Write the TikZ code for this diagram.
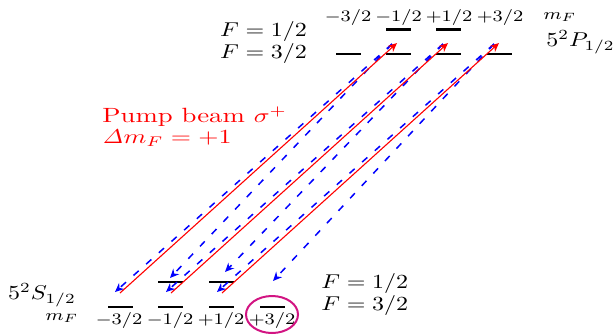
\documentclass[tikz,border=0pt]{standalone}
\usepackage{graphicx}
\usetikzlibrary{arrows.meta,shapes.geometric}
\definecolor{circmag}{RGB}{210,20,130}
\newcommand{\hs}[1]{\scalebox{1.2}[1]{#1}}
\newcommand{\hsw}[1]{\scalebox{1.3}[1]{#1}}
\begin{document}
\begin{tikzpicture}[x=0.5pt,y=-0.5pt,
  levelbar/.style={fill=black, inner sep=0pt, minimum width=12.5pt, minimum height=1.2pt},
  pump/.style={red, line width=0.55pt, -{Stealth[length=4.5pt,width=4pt]}},
  decay/.style={blue, line width=0.75pt, dash pattern=on 3.5pt off 5pt, -{Stealth[length=4.5pt,width=4pt]}},
  lbl/.style={inner sep=0pt, font=\fontsize{10.3}{12}\selectfont},
  mlbl/.style={inner sep=0pt, font=\fontsize{7.9}{9}\selectfont}
]
\useasboundingbox (0,0) rectangle (615,334);

% upper levels
\node[levelbar] (uA) at (348,54) {};
\node[levelbar] (uB) at (398.5,54) {};
\node[levelbar] (uC) at (448.5,54) {};
\node[levelbar] (uD) at (499.5,54) {};
\node[levelbar] (uE) at (398.5,29.5) {};
\node[levelbar] (uF) at (448.5,29.5) {};
% lower levels
\node[levelbar] (lA) at (120,307) {};
\node[levelbar] (lB) at (170.5,307) {};
\node[levelbar] (lC) at (221,307) {};
\node[levelbar] (lD) at (272,307) {};
\node[levelbar] (lE) at (170.5,282) {};
\node[levelbar] (lF) at (221,282) {};

% texts upper
\node[lbl] (Fu1) at (263.5,31) {\hs{$F = 1/2$}};
\node[lbl] (Fu3) at (263.5,53) {\hs{$F = 3/2$}};
\node[mlbl] (mu1) at (348,17) {\hs{$-3/2$}};
\node[mlbl] (mu2) at (398.5,17) {\hs{$-1/2$}};
\node[mlbl] (mu3) at (449,17) {\hs{$+1/2$}};
\node[mlbl] (mu4) at (500,17) {\hs{$+3/2$}};
\node[mlbl] (mFu) at (560,17) {\hs{$m_F$}};
\node[lbl, anchor=west] (Pst) at (546,42) {\hs{$5^2P_{1/2}$}};

% texts lower
\node[lbl] (Sst) at (42,295) {\hs{$5^2S_{1/2}$}};
\node[mlbl] (mFl) at (62,318) {\hs{$m_F$}};
\node[mlbl] (ml1) at (119,320) {\hs{$-3/2$}};
\node[mlbl] (ml2) at (170,320) {\hs{$-1/2$}};
\node[mlbl] (ml3) at (221,320) {\hs{$+1/2$}};
\node[mlbl] (ml4) at (272,320) {\hs{$+3/2$}};
\node[lbl, anchor=west] (Fl1) at (321,283) {\hs{$F = 1/2$}};
\node[lbl, anchor=west] (Fl3) at (321,305) {\hs{$F = 3/2$}};

% pump text
\node[lbl, anchor=west, text=red] (pt1) at (102,117) {\hsw{Pump beam $\sigma^+$}};
\node[lbl, anchor=west, text=red] (pt2) at (102,138) {\hsw{$\mathit{\Delta} m_F = +1$}};

% circle
\node[draw=circmag, line width=1pt, ellipse, inner sep=0pt, minimum width=26pt, minimum height=18.5pt] (circ) at (272,314.5) {};

% coordinates
\coordinate (r1s) at (120,293);
\coordinate (r1e) at (397,43);
\coordinate (r2s) at (171,293);
\coordinate (r2e) at (448,43);
\coordinate (r3s) at (222,293);
\coordinate (r3e) at (499,43);
\coordinate (b1s) at (392,44);
\coordinate (b2s) at (443,44);
\coordinate (b3s) at (494,44);
\coordinate (e1) at (115,292);
\coordinate (e2) at (170,278);
\coordinate (e3) at (166,292);
\coordinate (e4) at (225,272);
\coordinate (e5) at (217,292);
\coordinate (e6) at (273,281);

% decay arrows
\draw[decay] (b1s) -- (e1);
\draw[decay] (b1s) -- (e2);
\draw[decay] (b2s) -- (e3);
\draw[decay] (b2s) -- (e4);
\draw[decay] (b3s) -- (e5);
\draw[decay] (b3s) -- (e6);
% pump arrows
\draw[pump] (r1s) -- (r1e);
\draw[pump] (r2s) -- (r2e);
\draw[pump] (r3s) -- (r3e);
\end{tikzpicture}
\end{document}
